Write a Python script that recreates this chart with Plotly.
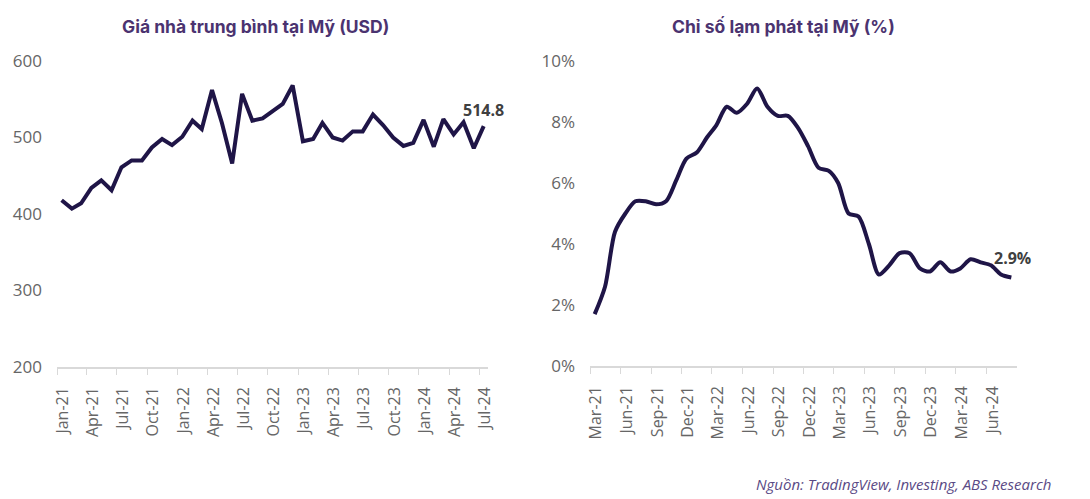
import pandas as pd
import plotly.graph_objects as go

# ---- Data ----
house_months = pd.date_range("2021-01-01", "2024-07-01", freq="MS")
house_price = [418, 407, 414, 434, 444, 431, 461, 470, 470, 487, 498, 490,
               501, 522, 511, 562, 519, 466, 557, 522, 525, 534, 544, 568,
               495, 498, 519, 500, 496, 508, 508, 530, 516, 500, 489, 493,
               523, 488, 524, 504, 520, 486, 514.8]
house_ticks = pd.date_range("2021-01-01", "2024-07-01", freq="3MS")
house_ticklabels = [d.strftime("%b-%y") for d in house_ticks]

cpi_months = pd.date_range("2021-03-01", "2024-08-01", freq="MS")
cpi_values = [1.7, 2.6, 4.4, 5.0, 5.4, 5.4, 5.3, 5.4, 6.1, 6.8, 7.0, 7.5,
              7.9, 8.5, 8.3, 8.6, 9.1, 8.5, 8.2, 8.2, 7.8, 7.2, 6.5, 6.4,
              6.0, 5.0, 4.9, 4.0, 3.0, 3.3, 3.7, 3.7, 3.2, 3.1, 3.4, 3.1,
              3.2, 3.5, 3.4, 3.3, 3.0, 2.9]
cpi_ticks = pd.date_range("2021-03-01", "2024-06-01", freq="3MS")
cpi_ticklabels = [d.strftime("%b-%y") for d in cpi_ticks]

titles = ["Giá nhà trung bình tại Mỹ (USD)", "Chỉ số lạm phát tại Mỹ (%)"]
source_text = "Nguồn: TradingView, Investing, ABS Research"

# ---- Styles ----
LINE = "#1f1547"
TITLE_C = "#4b3370"
TICK_C = "#666666"
AXIS_C = "#d9d9d9"

W, H = 1090, 499
def px_x(p): return p / W
def px_y(p): return 1 - p / H

offset = pd.Timedelta(days=14)

fig = go.Figure()
fig.add_trace(go.Scatter(x=house_months + offset, y=house_price, mode="lines",
                         line=dict(color=LINE, width=4), xaxis="x", yaxis="y",
                         showlegend=False, hoverinfo="skip"))
fig.add_trace(go.Scatter(x=cpi_months + offset, y=cpi_values, mode="lines",
                         line=dict(color=LINE, width=4, shape="spline", smoothing=0.8),
                         xaxis="x2", yaxis="y2", showlegend=False, hoverinfo="skip"))

xcommon = dict(type="date", showgrid=False, zeroline=False, showline=True,
               linecolor=AXIS_C, linewidth=1.5, ticks="outside", ticklen=6,
               tickcolor=AXIS_C, tickangle=-90, automargin=False,
               ticklabelstandoff=6, ticklabelshift=6,
               tickfont=dict(family="Open Sans", size=16, color=TICK_C))
ycommon = dict(showgrid=False, zeroline=False, showline=False, ticks="",
               automargin=False,
               tickfont=dict(family="Open Sans", size=17, color=TICK_C),
               ticklabelstandoff=14)

fig.update_layout(
    width=W, height=H, margin=dict(l=0, r=0, t=0, b=0, autoexpand=False),
    paper_bgcolor="white", plot_bgcolor="white",
    xaxis=dict(xcommon, domain=[px_x(57), px_x(488)],
               range=[pd.Timestamp("2021-01-01"), pd.Timestamp("2024-07-28")],
               tickvals=list(house_ticks), ticktext=house_ticklabels, anchor="y"),
    yaxis=dict(ycommon, domain=[px_y(367), px_y(61)], range=[200, 600],
               dtick=100, tick0=200, anchor="x"),
    xaxis2=dict(xcommon, domain=[px_x(590), px_x(1017)],
                range=[pd.Timestamp("2021-03-01"), pd.Timestamp("2024-09-01")],
                tickvals=list(cpi_ticks), ticktext=cpi_ticklabels, anchor="y2"),
    yaxis2=dict(ycommon, domain=[px_y(366), px_y(61)], range=[0, 10],
                dtick=2, tick0=0, ticksuffix="%", anchor="x2"),
)

ann = [
    dict(text="<b>%s</b>" % titles[0], x=px_x(255), y=px_y(26), xref="paper", yref="paper",
         xanchor="center", yanchor="middle",
         showarrow=False, font=dict(family="Inter", size=17.5, color=TITLE_C)),
    dict(text="<b>%s</b>" % titles[1], x=px_x(783), y=px_y(26), xref="paper", yref="paper",
         xanchor="center", yanchor="middle",
         showarrow=False, font=dict(family="Inter", size=17.5, color=TITLE_C)),
    dict(text="<b>%s</b>" % f"{house_price[-1]:.1f}", x=house_months[-1] + offset, y=house_price[-1],
         xref="x", yref="y", showarrow=False, xanchor="center", yanchor="middle",
         yshift=16, xshift=0,
         font=dict(family="Open Sans", size=16, color="#404040")),
    dict(text="<b>%s%%</b>" % f"{cpi_values[-1]:.1f}", x=cpi_months[-1] + offset, y=cpi_values[-1],
         xref="x2", yref="y2", showarrow=False, xanchor="center", yanchor="middle",
         yshift=20, xshift=1,
         font=dict(family="Open Sans", size=16, color="#404040")),
    dict(text="<i>%s</i>" % source_text, x=px_x(1053), y=px_y(484), xref="paper", yref="paper",
         xanchor="right", yanchor="middle", showarrow=False,
         font=dict(family="Open Sans", size=15, color="#5a4a85")),
]
fig.update_layout(annotations=ann)

fig.write_html("out.html", config={"responsive": False, "displayModeBar": False},
               post_script="document.body.style.margin='0';document.body.style.overflow='hidden';")
